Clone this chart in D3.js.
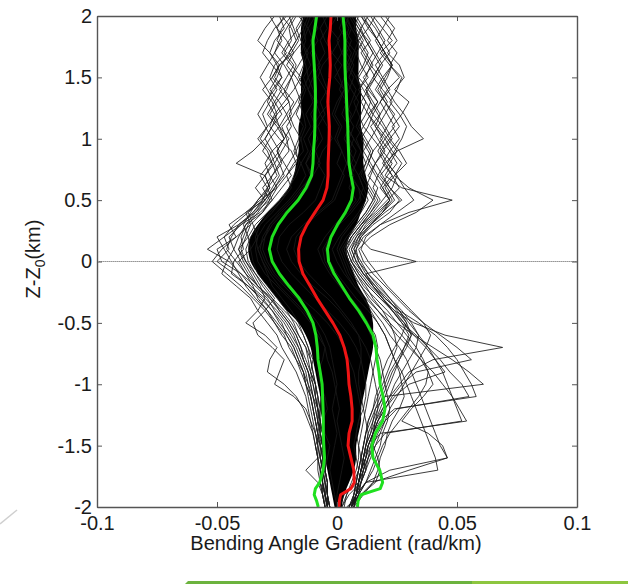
<!DOCTYPE html>
<html>
<head>
<meta charset="utf-8">
<script src="https://cdn.jsdelivr.net/npm/d3@7/dist/d3.min.js"></script>
<style>
  html, body { margin: 0; padding: 0; background: #fff; }
  svg { display: block; }
  text { font-family: "Liberation Sans", Arial, Helvetica, sans-serif; fill: #1a1a1a; }
</style>
</head>
<body>
<svg id="chart" width="628" height="584"></svg>
<script>
// ---------- axis ticks ----------
const xTicks = [-0.1, -0.05, 0, 0.05, 0.1];
const yTicks = [-2, -1.5, -1, -0.5, 0, 0.5, 1, 1.5, 2];

// ---------- heights (km) for percentile curves ----------
const pctZ = [2.0,1.9,1.8,1.7,1.6,1.5,1.4,1.3,1.2,1.1,
              1.0,0.9,0.8,0.7,0.6,0.5,0.4,0.3,0.2,0.1,
              0.0,-0.1,-0.2,-0.3,-0.4,-0.5,-0.6,-0.7,-0.8,-0.9,
              -1.0,-1.1,-1.2,-1.3,-1.4,-1.5,-1.6,-1.7,-1.8,-1.85,
              -1.9,-1.95,-2.0];

// median (red), rad/km
const medianLine = [-0.0025,-0.0028,-0.0033,-0.0030,-0.0028,-0.0030,-0.0035,-0.0038,-0.0035,-0.0032,
                    -0.0033,-0.0035,-0.0037,-0.0037,-0.0042,-0.0058,-0.0092,-0.0125,-0.0150,-0.0160,
                    -0.0158,-0.0142,-0.0112,-0.0083,-0.0050,-0.0017,0.0012,0.0030,0.0042,0.0047,
                    0.0050,0.0058,0.0063,0.0063,0.0050,0.0046,0.0058,0.0070,0.0072,0.0058,
                    0.0015,0.0010,0.0008];
// lower percentile (green, left)
const lowerLine = [-0.0085,-0.0092,-0.0100,-0.0098,-0.0095,-0.0092,-0.0090,-0.0090,-0.0092,-0.0092,
                   -0.0094,-0.0098,-0.0100,-0.0106,-0.0129,-0.0162,-0.0208,-0.0245,-0.0270,-0.0282,
                   -0.0270,-0.0240,-0.0200,-0.0158,-0.0125,-0.0100,-0.0088,-0.0082,-0.0079,-0.0070,
                   -0.0062,-0.0060,-0.0058,-0.0057,-0.0057,-0.0055,-0.0052,-0.0058,-0.0072,-0.0090,
                   -0.0095,-0.0085,-0.0078];
// upper percentile (green, right)
const upperLine = [0.0025,0.0030,0.0033,0.0033,0.0033,0.0035,0.0038,0.0040,0.0042,0.0045,
                   0.0046,0.0048,0.0050,0.0058,0.0068,0.0060,0.0035,0.0002,-0.0025,-0.0040,
                   -0.0035,-0.0012,0.0020,0.0052,0.0090,0.0122,0.0150,0.0162,0.0167,0.0175,
                   0.0180,0.0192,0.0200,0.0190,0.0160,0.0145,0.0150,0.0178,0.0190,0.0180,
                   0.0100,0.0088,0.0085];

// ---------- heights (km) for individual profiles ----------
const profZ = [2.0,1.9,1.8,1.7,1.6,1.5,1.4,1.3,1.2,1.1,
               1.0,0.9,0.8,0.7,0.6,0.5,0.4,0.3,0.2,0.1,
               0.0,-0.1,-0.2,-0.3,-0.4,-0.5,-0.6,-0.7,-0.8,-0.9,
               -1.0,-1.1,-1.2,-1.3,-1.4,-1.5,-1.6,-1.7,-1.8,-1.9,
               -2.0];

// dense (solid-looking) core of the profile bundle, mrad/km
const coreLeft  = [-14,-15,-15,-15,-14,-15,-15,-15,-15,-16,
                   -16,-16,-17,-18,-20,-24,-29,-33,-36,-37,
                   -36,-33,-29,-25,-21,-16,-13,-11,-10,-9,
                   -8,-7,-7,-6,-6,-6,-5,-4,-3,-2,
                   -1];
const coreRight = [8,8,9,9,9,9,10,10,10,10,
                   11,11,11,12,13,12,10,8,5,4,
                   5,7,9,12,14,15,15,15,14,13,
                   12,11,10,10,9,8,8,7,5,3,
                   2];

// individual profiles, mrad/km (one value per profZ height)
const profL1  = [-17,-20,-19,-22,-18,-21,-24,-20,-19,-23, -21,-20,-24,-22,-26,-30,-35,-41,-44,-46, -42,-38,-33,-27,-22,-17,-14,-12,-10,-11, -9,-8,-7,-8,-6,-7,-5,-6,-5,-4, -4];
const profL2  = [-22,-25,-21,-18,-24,-27,-23,-26,-29,-25, -22,-27,-30,-28,-25,-32,-38,-36,-42,-50, -48,-40,-36,-30,-25,-21,-18,-16,-14,-12, -11,-10,-9,-8,-9,-7,-6,-7,-6,-5, -5];
const profL3  = [-13,-16,-20,-23,-19,-15,-18,-22,-26,-28, -24,-19,-17,-21,-25,-28,-31,-38,-40,-39, -43,-44,-37,-31,-27,-24,-20,-17,-15,-13, -12,-10,-9,-8,-7,-6,-7,-5,-4,-5, -4];
const profL4  = [-20,-18,-16,-19,-24,-26,-22,-20,-25,-27, -30,-35,-42,-30,-28,-33,-37,-35,-33,-36, -41,-38,-35,-33,-29,-26,-23,-19,-17,-14, -13,-11,-10,-9,-8,-8,-7,-6,-6,-5, -4];
const profL5  = [-15,-14,-17,-20,-17,-19,-22,-18,-21,-24, -22,-25,-23,-27,-29,-31,-35,-40,-47,-54, -45,-40,-34,-29,-26,-22,-19,-16,-14,-12, -11,-10,-8,-7,-8,-6,-5,-6,-5,-4, -3];
const profL6  = [-14,-17,-15,-13,-16,-19,-17,-15,-18,-21, -19,-17,-20,-23,-26,-29,-33,-37,-39,-41, -38,-35,-32,-30,-33,-38,-30,-25,-28,-29, -22,-17,-14,-12,-10,-9,-8,-7,-7,-6, -5];
const profL7  = [-11,-13,-15,-12,-14,-16,-13,-15,-17,-14, -16,-18,-15,-17,-20,-24,-29,-34,-37,-36, -35,-33,-29,-25,-21,-18,-16,-13,-12,-11, -9,-8,-8,-7,-6,-6,-5,-5,-4,-4, -3];
const profL8  = [-24,-22,-26,-28,-25,-23,-27,-29,-26,-24, -28,-31,-27,-25,-29,-33,-36,-39,-37,-41, -39,-36,-33,-28,-24,-20,-17,-15,-14,-12, -10,-9,-8,-8,-7,-9,-8,-13,-8,-6, -5];
const profL9  = [-19,-23,-25,-21,-26,-28,-25,-28,-31,-29, -33,-29,-27,-30,-28,-31,-37,-43,-47,-45, -50,-43,-37,-32,-27,-23,-21,-18,-16,-14, -13,-11,-10,-9,-8,-7,-6,-6,-5,-5, -4];
const profL10 = [-16,-12,-14,-18,-21,-17,-14,-17,-20,-18, -15,-14,-18,-21,-19,-23,-28,-32,-34,-33, -31,-29,-27,-23,-19,-16,-14,-12,-11,-10, -9,-9,-8,-7,-7,-6,-6,-5,-5,-4, -4];
const profL11 = [-26,-30,-33,-28,-24,-27,-31,-27,-25,-29, -32,-28,-26,-30,-34,-30,-38,-45,-42,-48, -52,-46,-40,-35,-30,-26,-22,-20,-17,-15, -13,-12,-11,-10,-9,-8,-8,-7,-6,-6, -5];
const profL12 = [-21,-26,-29,-31,-27,-23,-26,-30,-33,-30, -27,-24,-28,-32,-29,-27,-32,-40,-45,-43, -46,-48,-42,-36,-33,-29,-25,-23,-20,-17, -15,-13,-12,-11,-10,-9,-8,-8,-7,-6, -5];
const profL13 = [-12,-14,-13,-15,-13,-12,-14,-16,-14,-13, -15,-17,-16,-18,-20,-23,-27,-32,-36,-38, -37,-34,-30,-26,-30,-35,-33,-27,-22,-24, -26,-18,-13,-11,-9,-8,-7,-6,-6,-5, -4];
const profU1  = [-18,-21,-24,-26,-22,-19,-21,-25,-28,-24, -20,-23,-26,-24,-27,-30,-34,-38,-41,-43, -40,-37,-33,-28,-23,-19,-16,-13,-11,-10, -9,-8,-7,-7,-6,-6,-5,-5,-4,-4, -3];
const profU2  = [-23,-19,-17,-20,-23,-25,-28,-24,-21,-19, -22,-25,-22,-19,-23,-27,-31,-36,-38,-40, -38,-34,-31,-27,-24,-20,-17,-15,-13,-11, -10,-9,-8,-7,-7,-6,-5,-5,-4,-4, -3];
const profU3  = [-28,-25,-23,-26,-29,-32,-29,-26,-23,-27, -30,-27,-24,-27,-31,-28,-34,-41,-50,-47, -44,-41,-38,-34,-29,-25,-21,-18,-16,-14, -12,-11,-10,-9,-8,-7,-7,-6,-6,-5, -4];
const profR1  = [8,11,14,10,13,16,12,15,18,14, 17,20,16,13,17,15,12,8,5,3, 5,8,12,15,19,22,24,25,23,21, 19,17,15,13,12,11,10,9,8,7, 6];
const profR2  = [12,16,19,22,18,15,19,23,20,17, 21,25,22,18,22,27,20,14,9,7, 10,13,17,22,27,31,34,33,30,27, 24,22,19,16,14,12,11,10,9,8, 6];
const profR3  = [6,9,12,15,12,9,13,17,14,11, 15,19,23,20,27,48,30,18,11,8, 6,9,13,18,23,28,32,37,41,45, 30,24,20,17,15,13,12,11,10,8, 7];
const profR4  = [15,19,23,18,22,26,21,24,28,31, 36,25,20,17,21,24,19,13,8,5, 7,11,16,21,25,29,27,24,21,19, 18,16,15,13,12,11,10,9,8,7, 6];
const profR5  = [10,13,9,12,15,11,14,17,13,16, 19,15,13,16,19,22,17,11,7,4, 6,9,13,18,24,32,45,69,40,30, 26,22,19,17,15,13,12,10,9,8, 6];
const profR6  = [5,8,11,8,10,13,9,12,10,8, 11,14,12,10,13,16,13,9,5,2, 4,6,10,14,19,25,32,40,48,55, 61,20,16,14,12,11,10,9,8,7, 5];
const profR7  = [9,7,10,13,11,8,11,14,12,9, 12,15,13,11,14,17,14,10,6,3, 5,7,10,13,17,21,25,30,35,40, 44,48,51,54,18,14,12,10,9,8, 6];
const profR8  = [7,10,8,11,14,12,9,12,15,13, 10,13,16,14,12,15,12,8,4,1, 3,5,8,11,14,17,20,22,24,27, 29,31,33,35,37,39,41,42,12,9, 6];
const profR9  = [11,14,17,20,16,19,22,18,21,24, 20,17,20,23,19,22,18,12,9,14, 33,12,15,19,23,27,30,28,26,24, 22,20,18,16,15,14,13,12,10,9, 7];
const profR10 = [18,22,25,21,26,28,24,30,27,23, 26,22,19,23,26,21,16,10,6,4, 6,10,14,19,23,27,33,38,43,47, 52,55,25,20,17,15,13,11,10,9, 7];
const profR11 = [4,6,9,7,5,8,10,7,9,11, 8,10,12,9,11,13,10,6,2,0, 2,4,7,11,15,19,22,26,29,31, 33,35,37,39,41,43,46,22,12,8, 5];
const profR12 = [13,10,12,15,18,15,12,14,17,20, 23,19,16,19,22,26,22,15,10,8, 9,12,16,20,26,34,41,46,50,53, 56,58,24,18,15,13,11,10,9,8, 6];
const profR13 = [20,24,21,25,22,27,25,22,26,29, 27,24,21,25,28,32,25,18,12,10, 13,17,21,26,31,36,39,37,34,31, 28,25,22,20,18,16,14,12,10,8, 7];
const profR14 = [16,13,17,20,23,19,16,20,24,21, 18,22,25,21,18,22,19,14,9,6, 8,11,15,20,26,30,34,38,41,44, 46,48,50,52,20,16,13,11,9,7, 5];
const profR15 = [3,6,4,8,6,3,6,9,7,4, 7,10,8,5,9,12,9,5,1,-2, 0,3,7,12,17,22,27,31,35,38, 40,36,31,27,38,44,46,30,15,10, 6];
const profR16 = [14,17,20,17,14,18,21,18,15,19, 22,26,29,24,30,40,33,22,14,9, 11,15,20,25,30,36,43,50,56,33, 27,23,20,17,15,13,12,10,9,8, 6];
const profU4  = [10,14,17,20,23,20,17,20,23,26, 22,18,21,25,23,19,15,11,8,6, 8,11,15,19,24,28,31,29,26,23, 21,19,17,15,14,12,11,10,9,8, 6];
const profU5  = [22,19,16,19,23,21,18,21,18,16, 20,23,27,24,20,23,19,14,10,7, 9,13,18,22,26,29,31,28,25,22, 20,18,16,15,13,12,11,10,9,8, 6];
const profU6  = [6,9,13,16,19,16,13,10,13,17, 14,11,14,17,15,18,14,10,6,3, 5,8,11,16,21,25,29,33,36,38, 37,34,30,26,22,19,17,15,12,9, 6];
const profC1  = [-9,-12,-10,-13,-11,-14,-12,-10,-13,-11, -14,-12,-15,-13,-16,-20,-25,-30,-33,-34, -33,-30,-25,-20,-15,-11,-8,-5,-4,-2, -1,0,1,0,1,2,3,2,1,0, 0];
const profC2  = [2,5,3,6,4,7,5,3,6,4, 7,5,8,6,9,10,6,1,-3,-6, -5,-2,2,6,10,13,16,17,16,15, 14,13,12,11,10,9,9,8,6,4, 3];
const profC3  = [-4,-7,-5,-2,-6,-8,-5,-3,-7,-4, -2,-6,-8,-5,-7,-9,-14,-20,-24,-25, -23,-19,-14,-9,-4,1,5,8,10,11, 12,12,11,12,13,12,11,12,10,5, 2];
const profC4  = [0,-3,1,-2,2,-1,3,0,-2,1, -1,2,0,3,1,-1,-7,-13,-17,-18, -16,-12,-7,-2,2,6,9,10,10,9, 9,10,11,9,8,9,10,11,9,3, 1];
const profC5  = [1,3,0,2,-1,1,3,1,-1,2, 0,2,4,2,0,-2,-8,-14,-19,-21, -19,-15,-10,-4,1,5,9,12,14,15, 16,17,17,16,15,15,17,18,16,10, 4];
const profC6  = [-6,-4,-7,-5,-8,-6,-4,-7,-5,-8, -6,-9,-7,-10,-12,-16,-22,-27,-30,-31, -29,-26,-21,-15,-9,-4,0,3,5,7, 8,9,10,9,8,7,8,9,7,4, 2];
const profM1  = [-8,-10,-8,-11,-9,-12,-10,-8,-11,-9, -12,-10,-13,-11,-14,-18,-23,-28,-31,-32, -30,-27,-22,-17,-12,-8,-5,-3,-2,-1, 0,-1,-2,-1,0,-1,-2,-3,-2,-1, 0];
const profM2  = [3,1,4,2,5,3,1,4,2,5, 3,6,4,7,5,8,4,-1,-5,-8, -6,-3,1,5,9,12,14,16,18,19, 20,21,22,21,19,18,16,14,12,8, 5];
const profM3  = [-10,-8,-11,-9,-7,-10,-12,-9,-7,-10, -8,-11,-13,-10,-15,-19,-24,-28,-30,-33, -31,-28,-24,-19,-14,-10,-7,-5,-6,-8, -7,-5,-4,-6,-5,-3,-4,-5,-7,-5, -3];
const profM4  = [5,3,6,4,7,5,8,6,4,7, 5,8,6,9,11,9,5,0,-3,-5, -3,0,4,8,13,17,20,22,24,26, 27,28,26,23,21,20,18,17,15,11, 7];

const profiles = [profL1,profL2,profL3,profL4,profL5,profL6,profL7,profL8,profL9,profL10,profL11,profL12,profL13,
                  profU1,profU2,profU3,
                  profR1,profR2,profR3,profR4,profR5,profR6,profR7,profR8,profR9,profR10,profR11,profR12,profR13,profR14,profR15,profR16,
                  profU4,profU5,profU6,
                  profC1,profC2,profC3,profC4,profC5,profC6,profM1,profM2,profM3,profM4];

// ---------- drawing ----------
const svg = d3.select("#chart");
const L = 97, R = 577, T = 16, B = 507;
const x = d3.scaleLinear().domain([-0.1, 0.1]).range([L, R]);
const y = d3.scaleLinear().domain([-2, 2]).range([B, T]);
const milli = 1e-3;

svg.append("defs").append("clipPath").attr("id", "plotclip")
  .append("rect").attr("x", L).attr("y", T).attr("width", R - L).attr("height", B - T);

// slide decorations
svg.append("line").attr("x1", 0).attr("y1", 524).attr("x2", 17).attr("y2", 510)
  .attr("stroke", "#cfcfcf").attr("stroke-width", 1.5);
svg.append("polygon").attr("points", "188,581 472,581 472,584 185,584").attr("fill", "#6cb33e");
svg.append("polygon").attr("points", "472,581 628,581 628,584 472,584").attr("fill", "#8dc63f");

const plot = svg.append("g").attr("clip-path", "url(#plotclip)");

// zero reference line (dotted)
plot.append("line").attr("x1", x(-0.099)).attr("x2", x(0.1)).attr("y1", y(0)).attr("y2", y(0))
  .attr("stroke", "#555").attr("stroke-width", 1).attr("stroke-dasharray", "1,1");

// solid core
const coreArea = d3.area()
  .x0((d, i) => x(coreLeft[i] * milli))
  .x1((d, i) => x(coreRight[i] * milli))
  .y(d => y(d))
  .curve(d3.curveCatmullRom.alpha(0.5));
plot.append("path").datum(profZ).attr("d", coreArea).attr("fill", "#000");

// individual profiles (angular polylines, as in the source plot)
const profLine = d3.line().x(d => x(d * milli)).y((d, i) => y(profZ[i]));
plot.selectAll("path.prof").data(profiles).join("path").attr("class", "prof")
  .attr("d", profLine).attr("fill", "none").attr("stroke", "#1a1a1a")
  .attr("stroke-width", 0.85).attr("stroke-linejoin", "round");

// percentile lines
const pLine = d3.line().x(d => x(d)).y((d, i) => y(pctZ[i]));
[lowerLine, upperLine].forEach(s => {
  plot.append("path").datum(s).attr("d", pLine).attr("fill", "none")
    .attr("stroke", "#1fe01f").attr("stroke-width", 3).attr("stroke-linejoin", "round");
});
plot.append("path").datum(medianLine).attr("d", pLine).attr("fill", "none")
  .attr("stroke", "#f01414").attr("stroke-width", 3).attr("stroke-linejoin", "round");

// axes
const fmt = d => String(d);
const axB = svg.append("g").attr("transform", `translate(0,${B})`)
  .call(d3.axisBottom(x).tickValues(xTicks).tickFormat(fmt).tickSizeInner(-5).tickSizeOuter(0).tickPadding(9));
const axL = svg.append("g").attr("transform", `translate(${L},0)`)
  .call(d3.axisLeft(y).tickValues(yTicks).tickFormat(fmt).tickSizeInner(-5).tickSizeOuter(0).tickPadding(5));
const axT = svg.append("g").attr("transform", `translate(0,${T})`)
  .call(d3.axisTop(x).tickValues(xTicks).tickFormat("").tickSizeInner(-5).tickSizeOuter(0));
const axR = svg.append("g").attr("transform", `translate(${R},0)`)
  .call(d3.axisRight(y).tickValues(yTicks).tickFormat("").tickSizeInner(-5).tickSizeOuter(0));
[axB, axL, axT, axR].forEach(g => {
  g.select(".domain").attr("stroke", "#555").attr("stroke-width", 1.4);
  g.selectAll(".tick line").attr("stroke", "#555").attr("stroke-width", 1);
  g.selectAll(".tick text").attr("font-size", 20).attr("fill", "#1a1a1a")
    .attr("font-family", "'Liberation Sans', Arial, sans-serif");
});

// axis titles
svg.append("text").attr("x", 336).attr("y", 550).attr("text-anchor", "middle")
  .attr("font-size", 20).text("Bending Angle Gradient (rad/km)");
const yl = svg.append("text").attr("transform", "translate(40,259) rotate(-90)")
  .attr("text-anchor", "middle").attr("font-size", 20);
yl.append("tspan").text("Z-Z");
yl.append("tspan").attr("font-size", 14).attr("dy", 5).text("0");
yl.append("tspan").attr("dy", -5).text("(km)");
</script>
</body>
</html>
